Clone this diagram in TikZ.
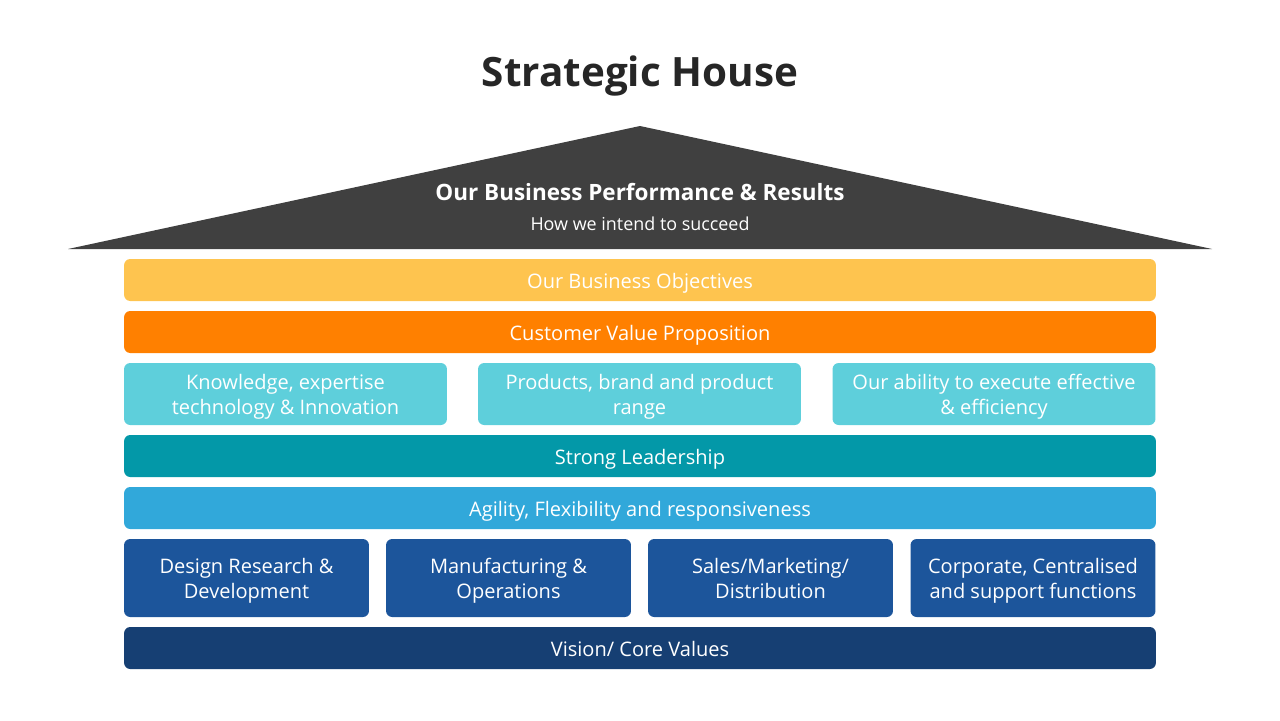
\documentclass[tikz,border=0pt]{standalone}
\usepackage{fontspec}
\setmainfont{Open Sans}
\definecolor{roofgray}{HTML}{404040}
\definecolor{titlegray}{HTML}{262626}
\definecolor{objyellow}{HTML}{FEC44F}
\definecolor{valorange}{HTML}{FF8000}
\definecolor{lightteal}{HTML}{5ECFDB}
\definecolor{darkteal}{HTML}{0398A8}
\definecolor{skyblue}{HTML}{31A8DA}
\definecolor{midblue}{HTML}{1C559B}
\definecolor{navyblue}{HTML}{163F73}

\begin{document}
\begin{tikzpicture}[x=0.02cm,y=-0.02cm,
	bar/.style={rounded corners=3.5pt, text=white, inner sep=0pt, align=center,
		minimum width=20.64cm, minimum height=0.84cm,
		text height=11.5pt, text depth=2pt,
		font=\fontsize{11.4}{14.2}\selectfont},
	third/.style={bar, minimum width=6.46cm, minimum height=1.24cm,
		text height=25.6pt, text depth=2.2pt},
	fourth/.style={bar, minimum width=4.9cm, minimum height=1.56cm,
		text height=26.2pt, text depth=2.4pt}]
	\useasboundingbox (0,0) rectangle (1280,720);

	\node[text=titlegray, font=\fontsize{23}{27}\selectfont\bfseries] (title) at (640,76) {Strategic House};

	\fill[roofgray] (68,249) -- (640,126) -- (1212,249) -- cycle;
	\node[text=white, font=\fontsize{12.8}{15}\selectfont\bfseries] (perf) at (640,192) {Our Business Performance \& Results};
	\node[text=white, font=\fontsize{10.2}{12}\selectfont] (how) at (640,224) {How we intend to succeed};

	\node[bar, fill=objyellow] (objectives) at (640,280) {Our Business Objectives};
	\node[bar, fill=valorange] (value) at (640,332) {Customer Value Proposition};

	\node[third, fill=lightteal] (knowledge) at (285.5,394) {Knowledge, expertise\\technology \& Innovation};
	\node[third, fill=lightteal] (products) at (639.5,394) {Products, brand and product\\range};
	\node[third, fill=lightteal] (ability) at (994,394) {Our ability to execute effective\\\& efficiency};

	\node[bar, fill=darkteal] (leadership) at (640,456) {Strong Leadership};
	\node[bar, fill=skyblue] (agility) at (640,508) {Agility, Flexibility and responsiveness};

	\node[fourth, fill=midblue] (design) at (246.5,578) {Design Research \&\\Development};
	\node[fourth, fill=midblue] (manufacturing) at (508.5,578) {Manufacturing \&\\Operations};
	\node[fourth, fill=midblue] (sales) at (770.5,578) {Sales/Marketing/\\Distribution};
	\node[fourth, fill=midblue] (corporate) at (1033,578) {Corporate, Centralised\\and support functions};

	\node[bar, fill=navyblue] (vision) at (640,648) {Vision/ Core Values};
\end{tikzpicture}
\end{document}
